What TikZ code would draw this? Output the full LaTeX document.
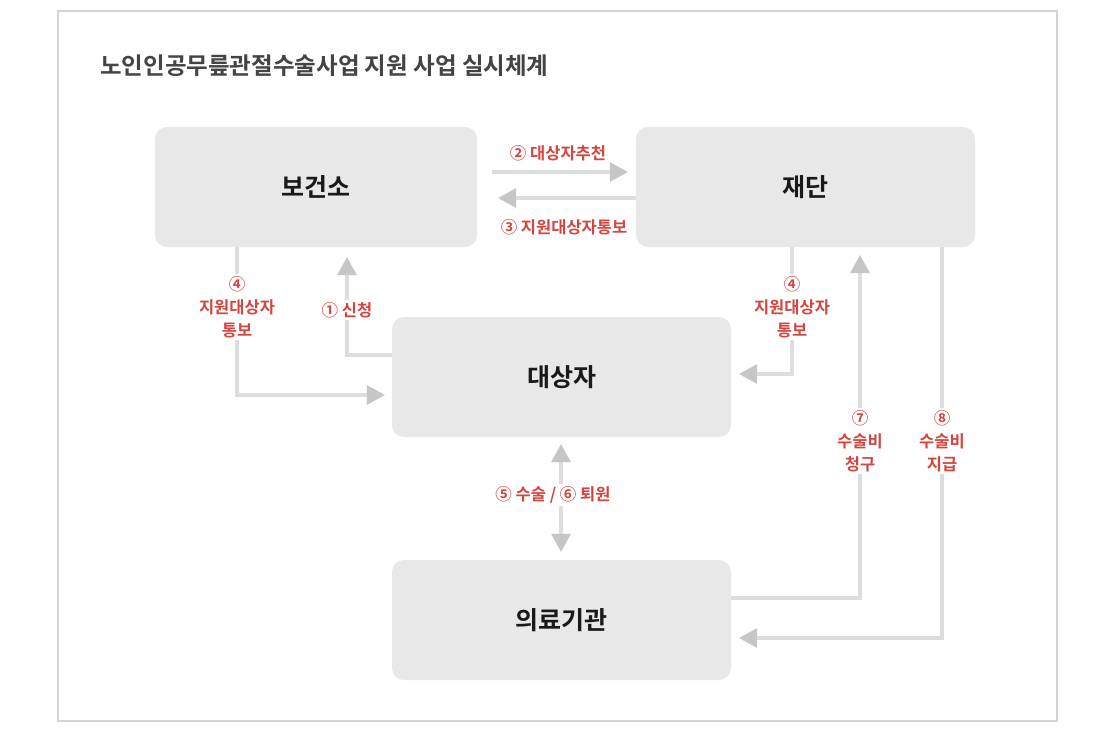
\documentclass[tikz,border=0pt]{standalone}
\usepackage{fontspec}
\setmainfont{Noto Sans CJK KR}[BoldFont={Noto Sans CJK KR Bold}]
\usetikzlibrary{arrows.meta,calc}
\definecolor{boxfill}{HTML}{E8E8E8}
\definecolor{linegray}{HTML}{DDDDDD}
\definecolor{tipgray}{HTML}{C6C6C6}
\definecolor{framegray}{HTML}{D4D4D4}
\definecolor{labred}{HTML}{D4453F}
\definecolor{titlegray}{HTML}{444444}
\tikzset{
  box/.style={fill=boxfill, rounded corners=12pt, minimum width=339pt, minimum height=120pt,
    font=\fontsize{25}{28}\selectfont\bfseries, text=black!90},
  conn/.style={draw=linegray, line width=4pt,
    -{Triangle[width=20pt,length=18pt,color=tipgray,line width=0pt]}},
  dconn/.style={draw=linegray, line width=4pt,
    {Triangle[width=20pt,length=18pt,color=tipgray,line width=0pt]}-{Triangle[width=20pt,length=18pt,color=tipgray,line width=0pt]}},
  lab/.style={text=labred, font=\fontsize{16.5}{23}\selectfont\bfseries, align=center,
    fill=white, inner sep=2pt},
  labnf/.style={text=labred, font=\fontsize{16.5}{23}\selectfont\bfseries, align=center, inner sep=2pt}
}
\begin{document}
\begin{tikzpicture}[x=1pt,y=-1pt]
\useasboundingbox (0,0) rectangle (1113,740);
\fill[white] (0,0) rectangle (1113,740);
\draw[framegray, line width=2pt] (58,11) rectangle (1057,721);
\node[anchor=west, text=titlegray, font=\fontsize{23.5}{26}\selectfont\bfseries, inner sep=0pt] (title) at (100,66) {노인인공무릎관절수술사업 지원 사업 실시체계};

\node[box, minimum width=322pt] (bgs) at (316,187) {보건소};
\node[box] (jd) at (805.5,187) {재단};
\node[box] (dsj) at (561.5,377) {대상자};
\node[box] (ulg) at (561.5,620) {의료기관};

% 2 and 3
\draw[conn, shorten <=15pt, shorten >=8pt] (bgs.east |- 0,172) -- (jd.west |- 0,172);
\node[labnf] (l2) at (558,153) {② 대상자추천};
\draw[conn, shorten >=21pt] (jd.west |- 0,198) -- (bgs.east |- 0,198);
\node[labnf] (l3) at (564,227) {③ 지원대상자통보};

% 4 left
\coordinate (c4l) at (237,395);
\draw[conn, shorten >=7pt] (bgs.south -| c4l) -- (c4l) -- (dsj.west |- c4l);
\node[lab] (l4l) at (237,307) {④\\지원대상자\\통보};

% 1
\coordinate (c1) at (347,355);
\draw[conn, shorten >=10pt] (dsj.west |- c1) -- (c1) -- (bgs.south -| c1);
\node[lab] (l1) at (347,310) {① 신청};

% 4 right
\coordinate (c4r) at (792,374);
\draw[conn, shorten >=8pt] (jd.south -| c4r) -- (c4r) -- (dsj.east |- c4r);
\node[lab] (l4r) at (792,307) {④\\지원대상자\\통보};

% 7
\coordinate (c7) at (860,598);
\draw[conn, shorten >=8pt] (ulg.east |- c7) -- (c7) -- (jd.south -| c7);
\node[lab] (l7) at (860,441) {⑦\\수술비\\청구};

% 8
\coordinate (c8) at (942,638);
\draw[conn, shorten >=8pt] (jd.south -| c8) -- (c8) -- (ulg.east |- c8);
\node[lab] (l8) at (942,441) {⑧\\수술비\\지급};

% 5/6
\draw[dconn, shorten <=7pt, shorten >=8pt] (dsj.south -| 561,0) -- (ulg.north -| 561,0);
\node[lab] (l56) at (553,495) {⑤ 수술 / ⑥ 퇴원};
\end{tikzpicture}
\end{document}
